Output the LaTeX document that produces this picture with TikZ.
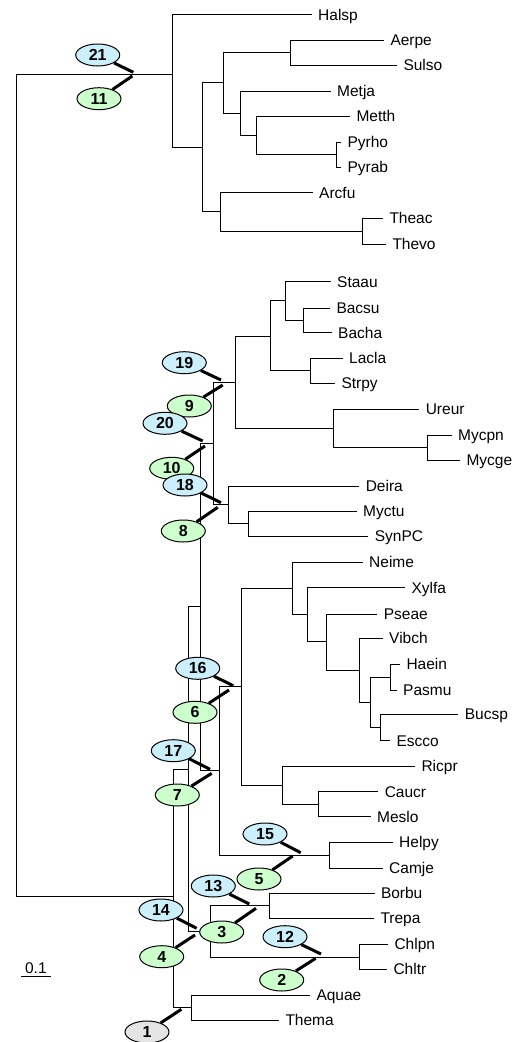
\documentclass[tikz,border=0pt]{standalone}
\usepackage{fontspec}
\setmainfont{Liberation Sans}
\usetikzlibrary{shapes.geometric}

\begin{document}
\begin{tikzpicture}[x=1pt,y=-1pt,line width=1pt,font=\fontsize{15.5}{18}\selectfont]
\tikzset{
% Text at the tips, and the ellipses that mark a branch
taxon/.style={anchor=west,inner xsep=6pt,inner ysep=0pt,text height=11pt,text depth=0pt},
split node/.style={ellipse,draw,minimum width=44pt,minimum height=22pt,inner sep=0pt,font=\fontsize{16}{18}\selectfont\bfseries},
blue node/.style={split node,fill=cyan!20},
green node/.style={split node,fill=green!20},
grey node/.style={split node,fill=black!10},
heavy/.style={line width=3pt}
}
\useasboundingbox (0,0) rectangle (518,1042);

% Inner nodes: x of the split, y where the parent branch comes in
\coordinate (root) at (16,485);
\coordinate (A0) at (172,74);
\coordinate (A1) at (202,147);
\coordinate (A2) at (223,82);
\coordinate (A3) at (290,52.5);
\coordinate (A4) at (240,113);
\coordinate (A5) at (220,211.7);
\coordinate (A6) at (256,135);
\coordinate (A7) at (336,154.5);
\coordinate (A8) at (362,231);

\coordinate (B0) at (173.7,896);
\coordinate (B1) at (188.3,769.3);
\coordinate (B2) at (191,1007.7);
\coordinate (B3) at (200,606.7);
\coordinate (B4) at (210,931.7);
\coordinate (B5) at (269.5,905.7);
\coordinate (B6) at (359.3,957);
\coordinate (B7) at (213.3,443.3);
\coordinate (B8) at (219,770.7);
\coordinate (B9) at (235.7,382);
\coordinate (B10) at (228,504.5);
\coordinate (B11) at (270,336);
\coordinate (B12) at (333.3,428.3);
\coordinate (B13) at (285,300.8);
\coordinate (B14) at (310.7,370.8);
\coordinate (B15) at (303.3,320.5);
\coordinate (B16) at (427.3,447.5);
\coordinate (B17) at (248.3,523.5);
\coordinate (B18) at (241.7,686.5);
\coordinate (B19) at (329.3,855.3);
\coordinate (B20) at (292.3,588.3);
\coordinate (B21) at (282.7,785);
\coordinate (B22) at (307.3,614.7);
\coordinate (B23) at (326.7,641.5);
\coordinate (B24) at (359.3,670.3);
\coordinate (B25) at (370.7,702.3);
\coordinate (B26) at (390,677);
\coordinate (B27) at (380,727.5);
\coordinate (B28) at (318.3,804.2);

% Tips
\node[taxon] (Halsp) at (311.7,14.7) {Halsp};
\node[taxon] (Aerpe) at (384,40) {Aerpe};
\node[taxon] (Sulso) at (397,65) {Sulso};
\node[taxon] (Metja) at (330.7,91) {Metja};
\node[taxon] (Metth) at (350,116) {Metth};
\node[taxon] (Pyrho) at (341,142) {Pyrho};
\node[taxon] (Pyrab) at (341,167) {Pyrab};
\node[taxon] (Arcfu) at (312.7,192.5) {Arcfu};
\node[taxon] (Theac) at (383,218) {Theac};
\node[taxon] (Thevo) at (386,244) {Thevo};
\node[taxon] (Staau) at (330.7,281.7) {Staau};
\node[taxon] (Bacsu) at (330,308.3) {Bacsu};
\node[taxon] (Bacha) at (331.7,332.7) {Bacha};
\node[taxon] (Lacla) at (342.7,358.3) {Lacla};
\node[taxon] (Strpy) at (335,383.3) {Strpy};
\node[taxon] (Ureur) at (419.3,409.3) {Ureur};
\node[taxon] (Mycpn) at (451.7,435) {Mycpn};
\node[taxon] (Mycge) at (460,460) {Mycge};
\node[taxon] (Deira) at (359.3,486) {Deira};
\node[taxon] (Myctu) at (356.7,511) {Myctu};
\node[taxon] (SynPC) at (368.3,536) {SynPC};
\node[taxon] (Neime) at (362.7,562.3) {Neime};
\node[taxon] (Xylfa) at (405,587.7) {Xylfa};
\node[taxon] (Pseae) at (377.3,614) {Pseae};
\node[taxon] (Vibch) at (382.7,638.3) {Vibch};
\node[taxon] (Haein) at (400,664) {Haein};
\node[taxon] (Pasmu) at (396.7,690) {Pasmu};
\node[taxon] (Bucsp) at (458.3,714.3) {Bucsp};
\node[taxon] (Escco) at (390,740.7) {Escco};
\node[taxon] (Ricpr) at (415,766) {Ricpr};
\node[taxon] (Caucr) at (378.3,791.7) {Caucr};
\node[taxon] (Meslo) at (370.7,816.7) {Meslo};
\node[taxon] (Helpy) at (392.7,842.3) {Helpy};
\node[taxon] (Camje) at (382.7,868.3) {Camje};
\node[taxon] (Borbu) at (374.5,893.3) {Borbu};
\node[taxon] (Trepa) at (374,918.3) {Trepa};
\node[taxon] (Chlpn) at (388,944) {Chlpn};
\node[taxon] (Chltr) at (387,969.3) {Chltr};
\node[taxon] (Aquae) at (310,995) {Aquae};
\node[taxon] (Thema) at (279,1020) {Thema};

% The Tree
\draw (root) |- (A0) (root) |- (B0);
\draw (A0) |- (Halsp.west) (A0) |- (A1);
\draw (A1) |- (A2) (A1) |- (A5);
\draw (A2) |- (A3) (A2) |- (A4);
\draw (A3) |- (Aerpe.west) (A3) |- (Sulso.west);
\draw (A4) |- (Metja.west) (A4) |- (A6);
\draw (A6) |- (Metth.west) (A6) |- (A7);
\draw (A7) |- (Pyrho.west) (A7) |- (Pyrab.west);
\draw (A5) |- (Arcfu.west) (A5) |- (A8);
\draw (A8) |- (Theac.west) (A8) |- (Thevo.west);

\draw (B0) |- (B1) (B0) |- (B2);
\draw (B2) |- (Aquae.west) (B2) |- (Thema.west);
\draw (B1) |- (B3) (B1) |- (B4);
\draw (B4) |- (B5) (B4) |- (B6);
\draw (B5) |- (Borbu.west) (B5) |- (Trepa.west);
\draw (B6) |- (Chlpn.west) (B6) |- (Chltr.west);
\draw (B3) |- (B7) (B3) |- (B8);
\draw (B7) |- (B9) (B7) |- (B10);
\draw (B9) |- (B11) (B9) |- (B12);
\draw (B11) |- (B13) (B11) |- (B14);
\draw (B13) |- (Staau.west) (B13) |- (B15);
\draw (B15) |- (Bacsu.west) (B15) |- (Bacha.west);
\draw (B14) |- (Lacla.west) (B14) |- (Strpy.west);
\draw (B12) |- (Ureur.west) (B12) |- (B16);
\draw (B16) |- (Mycpn.west) (B16) |- (Mycge.west);
\draw (B10) |- (Deira.west) (B10) |- (B17);
\draw (B17) |- (Myctu.west) (B17) |- (SynPC.west);
\draw (B8) |- (B18) (B8) |- (B19);
\draw (B18) |- (B20) (B18) |- (B21);
\draw (B20) |- (Neime.west) (B20) |- (B22);
\draw (B22) |- (Xylfa.west) (B22) |- (B23);
\draw (B23) |- (Pseae.west) (B23) |- (B24);
\draw (B24) |- (Vibch.west) (B24) |- (B25);
\draw (B25) |- (B26) (B25) |- (B27);
\draw (B26) |- (Haein.west) (B26) |- (Pasmu.west);
\draw (B27) |- (Bucsp.west) (B27) |- (Escco.west);
\draw (B21) |- (Ricpr.west) (B21) |- (B28);
\draw (B28) |- (Caucr.west) (B28) |- (Meslo.west);
\draw (B19) |- (Helpy.west) (B19) |- (Camje.west);

% scale bar
\coordinate (s0) at (21,976.7);
\coordinate (s1) at (50.7,976.7);
\draw (s0) -- (s1) node[midway,above,inner sep=2.5pt] (sbar) {0.1};

% Where the thick marks end, on the branches
\coordinate (t1) at (181.3,1009.3);
\coordinate (t2) at (315.7,958.3);
\coordinate (t3) at (256,908.3);
\coordinate (t4) at (195,935);
\coordinate (t5) at (292.7,856);
\coordinate (t6) at (229,690);
\coordinate (t7) at (211.7,773.3);
\coordinate (t8) at (217.7,507.3);
\coordinate (t9) at (222.7,385);
\coordinate (t10) at (205,446);
\coordinate (t11) at (132.3,76);
\coordinate (t12) at (321,954);
\coordinate (t13) at (249.3,904);
\coordinate (t14) at (196.7,928.3);
\coordinate (t15) at (300.7,852.7);
\coordinate (t16) at (233.3,685.7);
\coordinate (t17) at (210,769.3);
\coordinate (t18) at (221,502.7);
\coordinate (t19) at (221,380);
\coordinate (t20) at (202.7,441);
\coordinate (t21) at (133.3,72.3);

% Numbered ellipses
\node[grey node] (e1) at (147,1032) {1};
\draw[heavy] (e1) -- (t1);
\node[green node] (e2) at (281.7,980) {2};
\draw[heavy] (e2) -- (t2);
\node[green node] (e3) at (221.7,932) {3};
\draw[heavy] (e3) -- (t3);
\node[green node] (e4) at (161.7,956.7) {4};
\draw[heavy] (e4) -- (t4);
\node[green node] (e5) at (259,879) {5};
\draw[heavy] (e5) -- (t5);
\node[green node] (e6) at (195,712.3) {6};
\draw[heavy] (e6) -- (t6);
\node[green node] (e7) at (177.3,795) {7};
\draw[heavy] (e7) -- (t7);
\node[green node] (e8) at (183.3,531) {8};
\draw[heavy] (e8) -- (t8);
\node[green node] (e9) at (189.3,406) {9};
\draw[heavy] (e9) -- (t9);
\node[green node] (e10) at (171.7,468.3) {10};
\draw[heavy] (e10) -- (t10);
\node[green node] (e11) at (99,98.7) {11};
\draw[heavy] (e11) -- (t11);
\node[blue node] (e12) at (285,936.7) {12};
\draw[heavy] (e12) -- (t12);
\node[blue node] (e13) at (213.3,886) {13};
\draw[heavy] (e13) -- (t13);
\node[blue node] (e14) at (161,910) {14};
\draw[heavy] (e14) -- (t14);
\node[blue node] (e15) at (265,834) {15};
\draw[heavy] (e15) -- (t15);
\node[blue node] (e16) at (197.7,668.3) {16};
\draw[heavy] (e16) -- (t16);
\node[blue node] (e17) at (173.3,750.7) {17};
\draw[heavy] (e17) -- (t17);
\node[blue node] (e18) at (185,485) {18};
\draw[heavy] (e18) -- (t18);
\node[blue node] (e19) at (184.3,362.7) {19};
\draw[heavy] (e19) -- (t19);
\node[blue node] (e20) at (165,423.3) {20};
\draw[heavy] (e20) -- (t20);
\node[blue node] (e21) at (97.7,55) {21};
\draw[heavy] (e21) -- (t21);
\end{tikzpicture}
\end{document}
